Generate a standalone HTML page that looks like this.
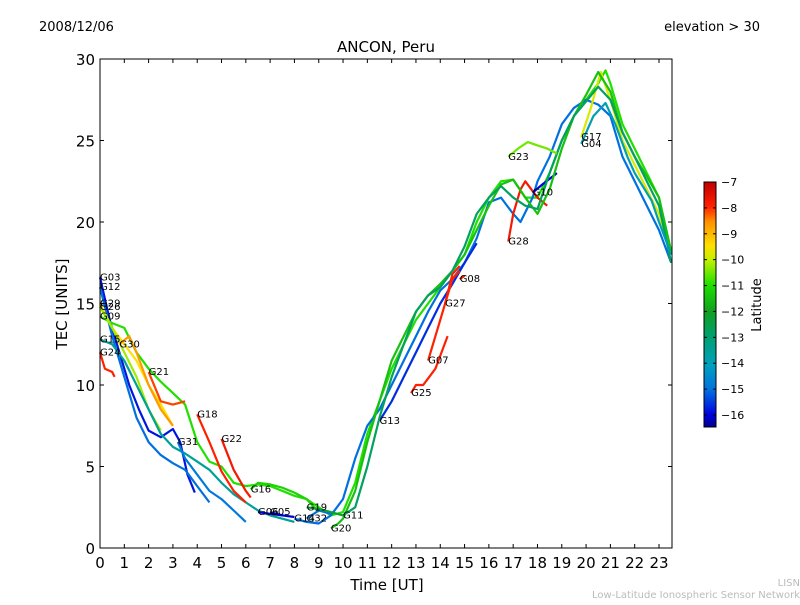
<!DOCTYPE html>
<html><head><meta charset="utf-8"><style>
body{margin:0;background:#fff;}
svg text{font-family:"DejaVu Sans","Liberation Sans",sans-serif;}
</style></head><body>
<svg id="chart" width="800" height="600" xmlns="http://www.w3.org/2000/svg">
<defs>
<linearGradient id="cbgrad" x1="0" y1="1" x2="0" y2="0">
<stop offset="0" stop-color="#00008f"/>
<stop offset="0.05" stop-color="#0000e0"/>
<stop offset="0.15" stop-color="#0070e0"/>
<stop offset="0.25" stop-color="#00a0c0"/>
<stop offset="0.37" stop-color="#00a070"/>
<stop offset="0.47" stop-color="#10a020"/>
<stop offset="0.58" stop-color="#20e000"/>
<stop offset="0.68" stop-color="#c0f000"/>
<stop offset="0.74" stop-color="#ffe000"/>
<stop offset="0.84" stop-color="#ff9000"/>
<stop offset="0.9" stop-color="#ff2000"/>
<stop offset="1" stop-color="#c00000"/>
</linearGradient>
</defs>
<text x="39" y="31" font-size="13">2008/12/06</text>
<text x="760" y="31" font-size="13" text-anchor="end">elevation &gt; 30</text>
<text x="386" y="52" font-size="15" text-anchor="middle">ANCON, Peru</text>
<g id="plot"></g>
<rect x="100" y="59" width="572" height="489" fill="none" stroke="#000" stroke-width="1"/>
<g id="axes"></g>
<text x="387" y="590" font-size="15" text-anchor="middle">Time [UT]</text>
<text transform="translate(67,304) rotate(-90)" font-size="15" text-anchor="middle">TEC [UNITS]</text>
<rect x="704" y="182" width="12" height="245" fill="url(#cbgrad)" stroke="#000" stroke-width="1"/>
<g id="cbticks"></g>
<text transform="translate(761,305) rotate(-90)" font-size="13" text-anchor="middle">Latitude</text>
<text x="800" y="586" font-size="10" fill="#bbb" text-anchor="end">LISN</text>
<text x="800" y="598" font-size="10" fill="#bbb" text-anchor="end">Low-Latitude Ionospheric Sensor Network</text>
</svg>
<script>
const xTicks=[0,1,2,3,4,5,6,7,8,9,10,11,12,13,14,15,16,17,18,19,20,21,22,23];
const yTicks=[0,5,10,15,20,25,30];
const cbTicks=[-7,-8,-9,-10,-11,-12,-13,-14,-15,-16];
const trackNames=["G03","G12","G29","G09","G26","G15","G24","G30","G21","G18","G22","G31","G16","G06","G05","G14","G13","G07","G25","G27","G08","G28","G10","G17","G32","G19","G20","G11","G23","G04"];
const trackLats=[-15.8,-15.0,-9.5,-11.0,-10.2,-13.5,-8.0,-8.8,-8.2,-8.0,-7.8,-14.8,-11.2,-16.0,-16.0,-15.0,-15.6,-8.0,-8.0,-8.0,-7.9,-7.8,-16.0,-9.8,-15.0,-12.2,-11.5,-12.8,-10.5,-13.8];
const trackH=[
[0,0.4,0.8,1.2,1.6,2,2.5,3,3.3,3.6,3.9],
[0,0.5,1,1.5,2,2.5,3,3.5,4,4.5],
[0,0.5,1,1.5,2,2.5,3],
[0,0.5,1,1.5,2,2.5,3,3.5,4,4.5,5,5.5,6,6.5,7,7.5,8,8.5,9,9.5,10,10.5,11,11.5,12,12.5,13,13.5,14,14.5,15,15.5,16,16.5,17,17.5,18,18.5,19,19.5,20,20.5,20.8,21,21.5,22,22.5,23,23.5],
[0,0.5,1,1.5,2,2.5],
[0,0.5,1,1.5,2,2.5,3,3.5,4,4.5,5,5.5,6,6.5,7,7.5,8],
[0,0.2,0.5,0.6],
[0.8,1.2,1.5,2,2.5,3],
[2,2.5,3,3.5],
[4,4.5,5,5.5,6],
[5,5.5,6,6.2],
[3.2,3.5,4,4.5,5,5.5,6],
[6.2,6.5,7,7.5,8,8.5,9],
[6.5,7,7.5],
[7,7.5,8],
[8,8.5,9,9.5,10,10.5,11,11.5,12,12.5,13,13.5,14,14.5,15,15.5,16,16.5,17,17.3,17.8,18,18.5,19,19.5,20,20.5,21,21.5,22,22.5,23,23.5],
[11.5,12,12.5,13,13.5,14,14.5,15,15.5],
[13.5,14,14.5,14.8],
[12.8,13,13.3,13.8,14.3],
[14.2,14.5,14.8],
[14.8,15],
[16.8,17,17.3,17.5,18,18.4],
[17.8,18.2,18.8],
[19.8,20.2,20.6,21,21.5,22,22.5,23,23.5],
[8.5,9,9.5],
[8.5,9,9.5,10],
[9.5,9.8,10,10.5,11,11.5,12,12.5,13,13.5,14,14.5,15,15.5,16,16.5,17,17.5,18,18.5,19,19.5,20,20.5,21,21.5,22,22.5,23,23.5],
[10,10.5,11,11.5,12,12.5,13,13.5,14,14.5,15,15.5,16,16.5,17,17.5,18,18.5,19,19.5,20,20.5,21,21.5,22,22.5,23,23.5],
[16.8,17.2,17.6,18,18.4,18.8],
[19.8,20.3,20.8,21.2,21.7,22,22.7,23,23.5]
];
const trackTec=[
[16.6,14,12,10,8.5,7.2,6.8,7.3,6.5,4.5,3.4],
[16,13,10.5,8,6.5,5.7,5.2,4.8,3.8,2.8],
[15,13.5,12.5,11.5,10,8.8,7.5],
[14.2,13.8,13.5,12,11,10.2,9.5,8.8,6.5,5.3,5,4,3.8,3.9,3.8,3.5,3.2,3,2.5,2,2.2,4,7,9,11,12.5,14,15,16,17,18,20,21.5,22.5,22.6,21.5,21.5,23,25,26.5,27.5,28.5,29.3,28.5,26,24.5,23,21.5,18],
[14.8,13.5,12,10.5,8.5,7.2],
[12.8,12.5,11.5,10,8.5,7,6.2,5.8,5.3,4.8,4,3.3,2.8,2.3,2,1.8,1.6],
[12,11,10.8,10.5],
[12.5,13,12,10,8.5,7.5],
[10.8,9,8.8,9],
[8.2,6.5,4.7,3.5,2.8],
[6.7,4.8,3.5,3.1],
[6.5,5.5,4.5,3.5,3,2.3,1.6],
[3.6,4,3.9,3.7,3.4,3,2.2],
[2.2,2.1,2],
[2.2,2,1.9],
[1.8,1.6,1.5,2,3,5.5,7.5,8.5,10,11.5,13,14.5,15.8,16.5,17.5,19,21.2,21.5,20.5,20,21.5,22.5,24,26,27,27.5,27.2,26.5,24,22.5,21,19.5,17.5],
[7.8,9,10.5,12,13.5,15,16.2,17.5,18.7],
[11.5,14,16.5,17],
[9.5,10,10,11,13],
[15,16.8,17.3],
[16.5,16.7],
[18.8,20.5,22,22.5,21.5,21],
[21.8,22.3,23],
[25.2,27,29.2,27.5,25,23.5,22,20.5,18],
[1.8,2.3,2.1],
[2.5,2.4,2.2,2],
[1.2,1.5,1.8,3.5,6.5,9,11.5,13,14.5,15.5,16.2,17,18,19.5,21,22.3,22.6,21.5,20.5,22,24.5,26.5,27.8,29.2,28,25.5,24,22.8,21.5,18.2],
[2,2.5,5,8,10.5,12.5,14.5,15.5,16,17,18.5,20.5,21.5,22.2,21.5,21,20.8,23,25,26.5,27.4,28.3,27.5,25.5,24,22.5,21,17.5],
[24,24.5,24.9,24.7,24.5,24.2],
[24.8,26.5,27.3,26,24,23,21.3,20,18]
];
const X0=100,X1=672,Y0=548,Y1=59;
const xs=h=>X0+h*(559/23);
const ys=v=>Y0-v*(Y0-Y1)/30;
const cbY=l=>182+(-7-l)*(233/9);
const NS="http://www.w3.org/2000/svg";
const stops=[[-16.5,[0,0,143]],[-16,[0,0,224]],[-15,[0,112,224]],[-14,[0,160,192]],[-13,[0,160,112]],[-12,[16,160,32]],[-11,[32,224,0]],[-10,[192,240,0]],[-9.5,[255,224,0]],[-8.7,[255,144,0]],[-8,[255,32,0]],[-7,[192,0,0]]];
function col(l){
 if(l<=stops[0][0])return "rgb("+stops[0][1]+")";
 for(let i=1;i<stops.length;i++){if(l<=stops[i][0]){const a=stops[i-1],b=stops[i],t=(l-a[0])/(b[0]-a[0]);return "rgb("+a[1].map((c,k)=>Math.round(c+(b[1][k]-c)*t)).join(",")+")";}}
 return "rgb(192,0,0)";
}
const plot=document.getElementById('plot');
trackNames.forEach((nm,i)=>{
 const p=document.createElementNS(NS,'polyline');
 p.setAttribute('points',trackH[i].map((h,k)=>xs(h).toFixed(1)+","+ys(trackTec[i][k]).toFixed(1)).join(" "));
 p.setAttribute('fill','none');p.setAttribute('stroke',col(trackLats[i]));p.setAttribute('stroke-width','2.2');p.setAttribute('stroke-linejoin','round');
 
 
 plot.appendChild(p);
});
trackNames.forEach((nm,i)=>{
 const t=document.createElementNS(NS,'text');
 t.setAttribute('x',xs(trackH[i][0]).toFixed(1));t.setAttribute('y',(ys(trackTec[i][0])+3).toFixed(1));
 t.setAttribute('font-size','10');t.textContent=nm;
 
 
 plot.appendChild(t);
});
const axes=document.getElementById('axes');
xTicks.forEach(v=>{
 const x=xs(v);
 axes.insertAdjacentHTML('beforeend',`<line x1="${x}" y1="${Y0}" x2="${x}" y2="${Y0-4}" stroke="#000"/><line x1="${x}" y1="${Y1}" x2="${x}" y2="${Y1+4}" stroke="#000"/>`);
 const t=document.createElementNS(NS,'text');
 t.setAttribute('x',x);t.setAttribute('y',Y0+20);t.setAttribute('font-size','15');t.setAttribute('text-anchor','middle');t.textContent=v;
 
 
 axes.appendChild(t);
});
yTicks.forEach(v=>{
 const y=ys(v);
 axes.insertAdjacentHTML('beforeend',`<line x1="${X0}" y1="${y}" x2="${X0+4}" y2="${y}" stroke="#000"/><line x1="${X1}" y1="${y}" x2="${X1-4}" y2="${y}" stroke="#000"/>`);
 const t=document.createElementNS(NS,'text');
 t.setAttribute('x',X0-5);t.setAttribute('y',y+6);t.setAttribute('font-size','15');t.setAttribute('text-anchor','end');t.textContent=v;
 
 
 axes.appendChild(t);
});
const cb=document.getElementById('cbticks');
cbTicks.forEach(v=>{
 const y=cbY(v);
 cb.insertAdjacentHTML('beforeend',`<line x1="704" y1="${y}" x2="707" y2="${y}" stroke="#000"/><line x1="713" y1="${y}" x2="716" y2="${y}" stroke="#000"/>`);
 const t=document.createElementNS(NS,'text');
 t.setAttribute('x',721);t.setAttribute('y',y+4);t.setAttribute('font-size','11');t.textContent='\u2212'+Math.abs(v);
 
 
 cb.appendChild(t);
});
</script>
</body></html>
